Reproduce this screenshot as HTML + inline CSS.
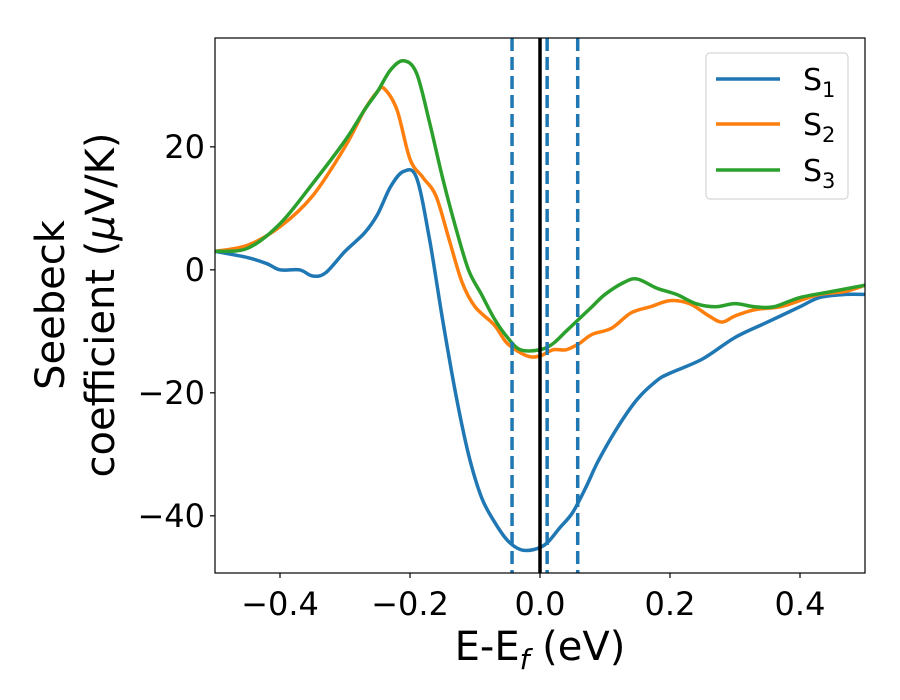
<!DOCTYPE html>
<html><head><meta charset="utf-8"><style>
body{margin:0;background:#fff}
svg{display:block;font-family:"DejaVu Sans","Liberation Sans",sans-serif}
</style></head><body>
<svg id="chart" xmlns="http://www.w3.org/2000/svg" width="900" height="700" viewBox="0 0 900 700">
<rect x="0" y="0" width="900" height="700" fill="#fff"/>
<g id="plot"></g>
<text x="540" y="660" text-anchor="middle" font-size="40">E-E<tspan font-style="italic" font-size="28" dy="9">f</tspan><tspan dy="-9"> (eV)</tspan></text>
<text transform="rotate(-90)" text-anchor="middle" font-size="40"><tspan x="-305" y="64">Seebeck</tspan><tspan x="-305" y="114">coefficient  (<tspan font-style="italic">μ</tspan>V/K)</tspan></text>
<g>
<rect x="706" y="53" width="142" height="146" rx="4" fill="#fff" stroke="#ccc" stroke-width="1"/>
<line x1="716" x2="780" y1="79" y2="79" stroke="#1f77b4" stroke-width="3.5"/>
<text x="803" y="90" font-size="30">S<tspan font-size="21" dy="7">1</tspan></text>
<line x1="716" x2="780" y1="124" y2="124" stroke="#ff7f0e" stroke-width="3.5"/>
<text x="803" y="135" font-size="30">S<tspan font-size="21" dy="7">2</tspan></text>
<line x1="716" x2="780" y1="170" y2="170" stroke="#2ca02c" stroke-width="3.5"/>
<text x="803" y="181" font-size="30">S<tspan font-size="21" dy="7">3</tspan></text>
</g>
</svg>
<script>
const xs1 = [-0.5,-0.45,-0.42,-0.4,-0.37,-0.35,-0.33,-0.3,-0.27,-0.25,-0.23,-0.21,-0.19,-0.17,-0.15,-0.13,-0.11,-0.09,-0.07,-0.05,-0.03,-0.01,0.01,0.03,0.05,0.07,0.09,0.12,0.15,0.18,0.2,0.25,0.3,0.35,0.4,0.43,0.47,0.5];
const s1 = [3,2,1,0,0,-1,-0.5,3,6,9,13.5,16,15,5,-8,-20,-30,-37,-41,-44,-45.5,-45.5,-44.5,-42,-39.5,-35.5,-31,-25.5,-21,-18,-16.8,-14.5,-11,-8.5,-6,-4.5,-4,-4];
const xs2 = [-0.5,-0.45,-0.4,-0.35,-0.3,-0.27,-0.25,-0.24,-0.22,-0.2,-0.18,-0.16,-0.14,-0.12,-0.1,-0.07,-0.05,-0.02,0,0.02,0.04,0.06,0.08,0.11,0.14,0.17,0.2,0.23,0.26,0.28,0.3,0.33,0.37,0.4,0.43,0.47,0.5];
const s2 = [3,4,7,12,20,26,29,29.5,26,18,15,12,5,-2,-6,-9,-12,-14,-14,-13,-13,-12,-10.5,-9.5,-7,-6,-5,-5.5,-7.5,-8.5,-7.5,-6.5,-6,-5,-4,-3.5,-2.5];
const xs3 = [-0.5,-0.45,-0.4,-0.35,-0.3,-0.27,-0.25,-0.23,-0.21,-0.19,-0.17,-0.15,-0.13,-0.11,-0.09,-0.07,-0.05,-0.03,0,0.02,0.04,0.06,0.08,0.1,0.13,0.15,0.18,0.21,0.24,0.27,0.3,0.33,0.36,0.4,0.45,0.5];
const s3 = [3,3.5,7.5,14,21,26,29,32.5,34,32,24,15,7,0,-4,-8,-11,-13,-13,-12,-10,-8,-6,-4,-2,-1.5,-3,-4,-5.5,-6,-5.5,-6,-6,-4.5,-3.5,-2.5];
const dashedX = [-0.043,0.011,0.058];
const xTicks = [-0.4,-0.2,0.0,0.2,0.4];
const xTickLabels = ["\u22120.4","\u22120.2","0.0","0.2","0.4"];
const yTicks = [20,0,-20,-40];
const yTickLabels = ["20","0","\u221220","\u221240"];

const L=215,R=865,T=38,B=573, X0=-0.5,X1=0.5, Y0=-49.3,Y1=37.7;
const sx=v=>L+(v-X0)/(X1-X0)*(R-L);
const sy=v=>B-(v-Y0)/(Y1-Y0)*(B-T);
const NS="http://www.w3.org/2000/svg";
const g=document.getElementById('plot');
function mk(t,a,p){const e=document.createElementNS(NS,t);for(const k in a)e.setAttribute(k,a[k]);(p||g).appendChild(e);return e;}
function smooth(xa,ya){const p=xa.map((x,i)=>[sx(x),sy(ya[i])]);let d=`M${p[0][0]},${p[0][1]}`;
for(let i=0;i<p.length-1;i++){const p0=p[i-1]||p[i],p1=p[i],p2=p[i+1],p3=p[i+2]||p2;
d+=` C${p1[0]+(p2[0]-p0[0])/6},${p1[1]+(p2[1]-p0[1])/6} ${p2[0]-(p3[0]-p1[0])/6},${p2[1]-(p3[1]-p1[1])/6} ${p2[0]},${p2[1]}`;}return d;}
const defs=mk('defs',{});const cp=mk('clipPath',{id:'clip'},defs);mk('rect',{x:L,y:T,width:R-L,height:B-T},cp);
const series=[[xs1,s1,'#1f77b4','series-s1'],[xs2,s2,'#ff7f0e','series-s2'],[xs3,s3,'#2ca02c','series-s3']];
series.forEach(s=>{const e=mk('path',{d:smooth(s[0],s[1]),fill:'none',stroke:s[2],'stroke-width':3.5,'clip-path':'url(#clip)'});

});
dashedX.forEach((v,i)=>{const e=mk('line',{x1:sx(v),x2:sx(v),y1:T,y2:B,stroke:'#1f77b4','stroke-width':3.5,'stroke-dasharray':'13,6'});

});
const fl=mk('line',{x1:sx(0),x2:sx(0),y1:T,y2:B,stroke:'#000','stroke-width':3.5});


const fr=mk('rect',{x:L,y:T,width:R-L,height:B-T,fill:'none',stroke:'#000','stroke-width':1.2});


xTicks.forEach((v,i)=>{mk('line',{x1:sx(v),x2:sx(v),y1:B,y2:B+5,stroke:'#000','stroke-width':1.2});
const t=mk('text',{x:sx(v),y:B+42,'text-anchor':'middle','font-size':32});t.textContent=xTickLabels[i];

});
yTicks.forEach((v,i)=>{mk('line',{x1:L-5,x2:L,y1:sy(v),y2:sy(v),stroke:'#000','stroke-width':1.2});
const t=mk('text',{x:L-10,y:sy(v)+11,'text-anchor':'end','font-size':32});t.textContent=yTickLabels[i];

});
</script>
</body></html>
